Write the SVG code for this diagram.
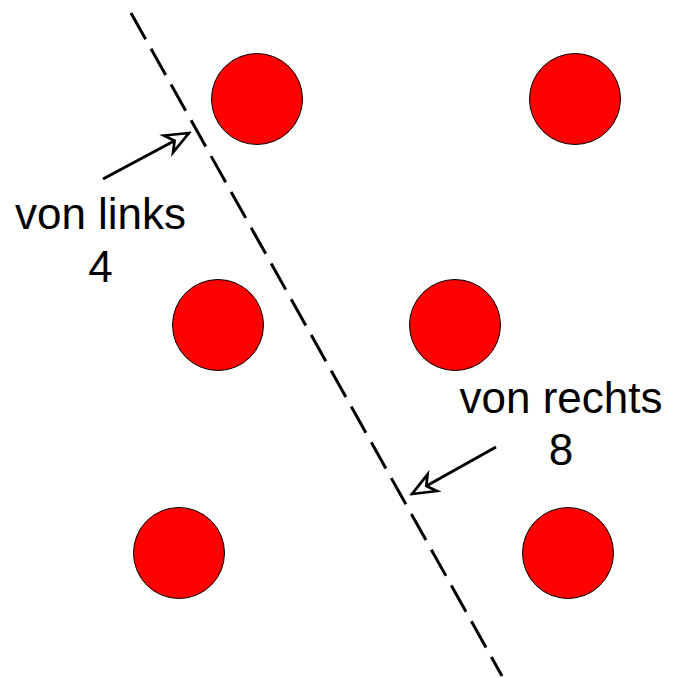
<svg xmlns="http://www.w3.org/2000/svg" width="678" height="678" viewBox="0 0 678 678">
<defs>
<style>
.dot{fill:#ff0000;stroke:#000;stroke-width:1}
.lbl{font-family:"Liberation Sans",Arial,sans-serif;font-size:44px;fill:#000;text-anchor:middle}
.arr{stroke:#000;stroke-width:3;fill:none}
</style>
<marker id="ah" markerUnits="userSpaceOnUse" markerWidth="30" markerHeight="30" viewBox="-20 -10 22 20" refX="0" refY="0" orient="auto">
<path d="M0,0 L-17,-7 L-12,0 L-17,7 Z" fill="#fff" stroke="#000" stroke-width="2" stroke-linejoin="miter"/>
</marker>
</defs>
<rect width="678" height="678" fill="#fff"/>
<g id="connectors">
<line x1="131" y1="13" x2="502" y2="676" stroke="#000" stroke-width="3" stroke-dasharray="30 11"/>
<line class="arr" x1="103" y1="179" x2="189" y2="133" marker-end="url(#ah)"/>
<line class="arr" x1="496" y1="447" x2="412" y2="494" marker-end="url(#ah)"/>
</g>
<g id="c1"><circle class="dot" cx="257" cy="99" r="45.5"/></g>
<g id="c2"><circle class="dot" cx="575" cy="99" r="45.5"/></g>
<g id="c3"><circle class="dot" cx="218" cy="325" r="45.5"/></g>
<g id="c4"><circle class="dot" cx="455" cy="325" r="45.5"/></g>
<g id="c5"><circle class="dot" cx="179" cy="553" r="45.5"/></g>
<g id="c6"><circle class="dot" cx="568" cy="553" r="45.5"/></g>
<g id="label-links">
<text class="lbl" x="100.5" y="229">von links</text>
<text class="lbl" x="100.5" y="282">4</text>
</g>
<g id="label-rechts">
<text class="lbl" x="561" y="413">von rechts</text>
<text class="lbl" x="561" y="465">8</text>
</g>
</svg>
